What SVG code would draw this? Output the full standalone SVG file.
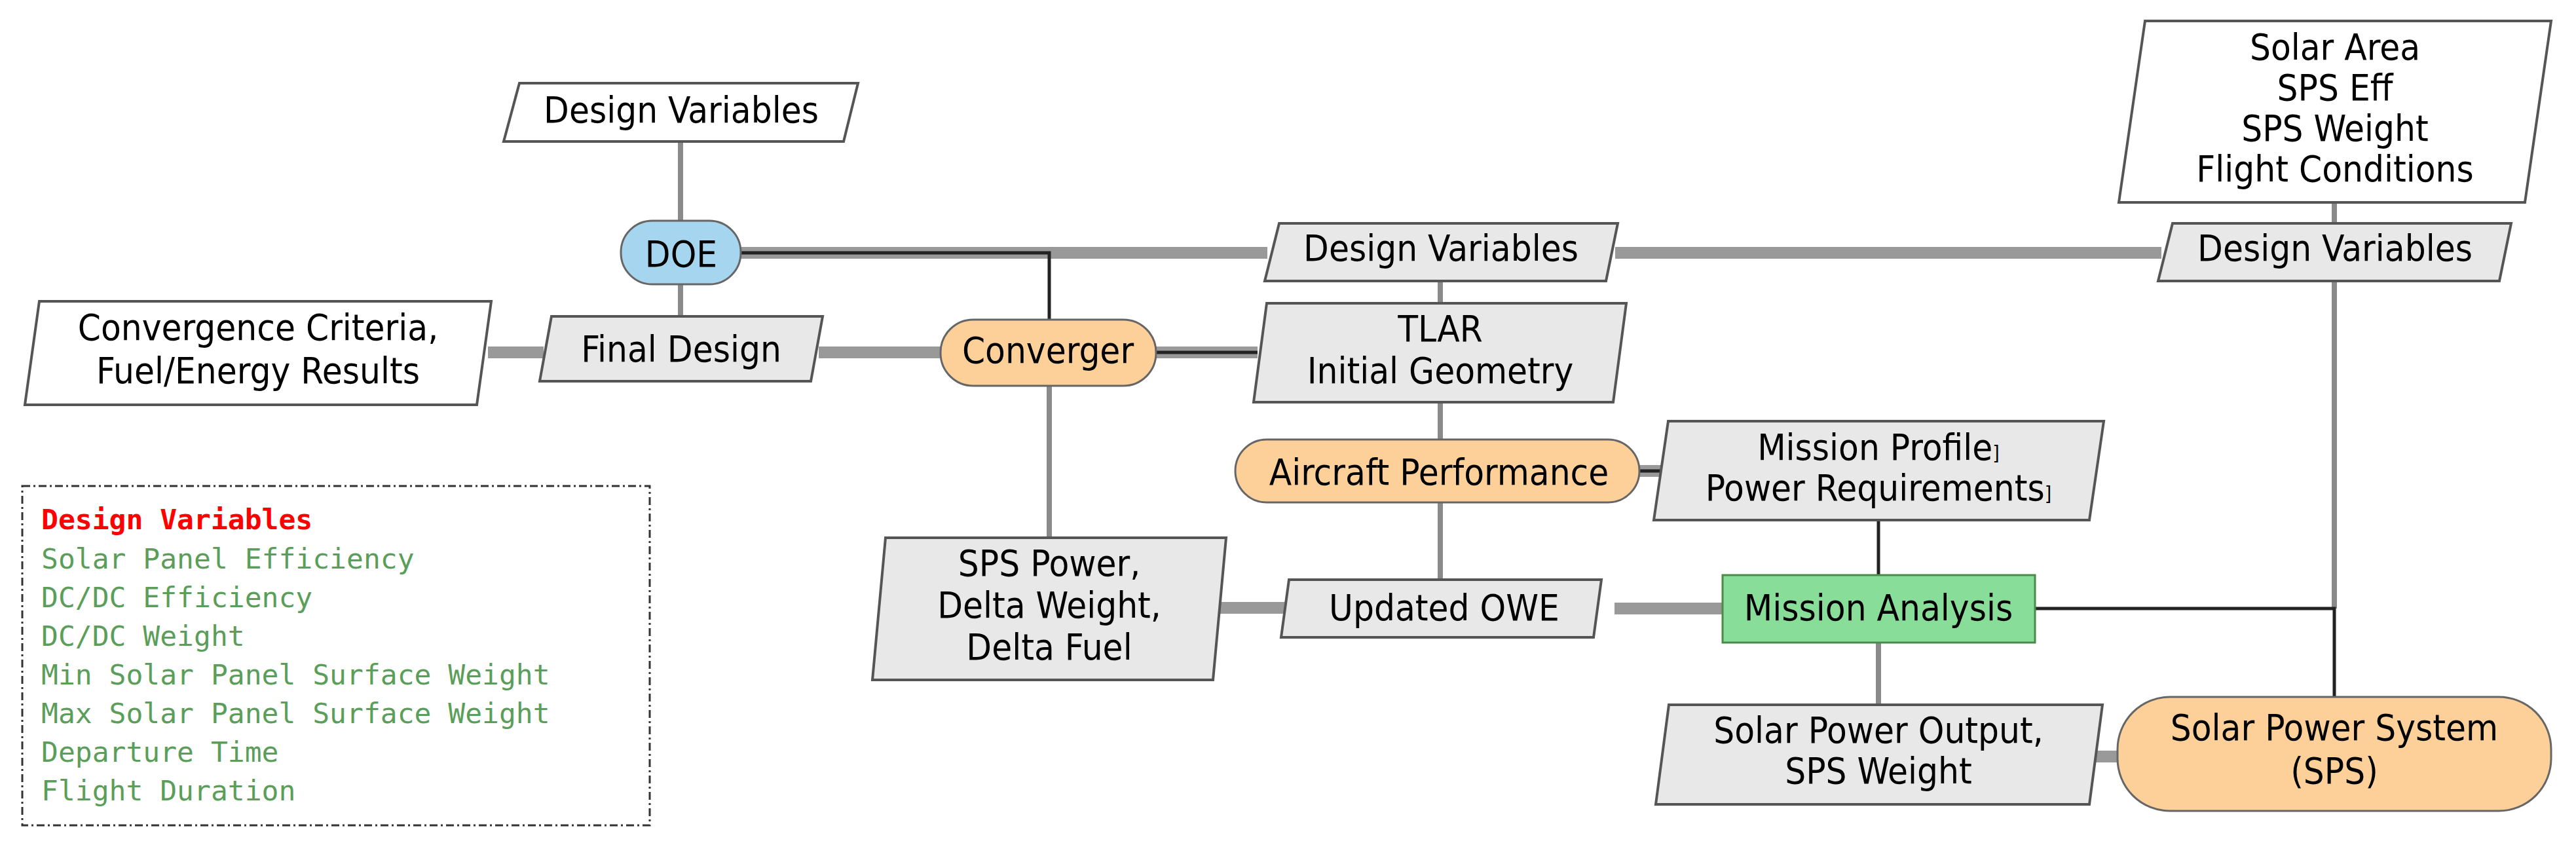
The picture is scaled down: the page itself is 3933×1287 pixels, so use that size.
<svg xmlns="http://www.w3.org/2000/svg" width="3933" height="1287" viewBox="0 0 3933 1287">
<style>
.t{font-family:"DejaVu Sans Condensed","DejaVu Sans",sans-serif;font-size:56px;text-anchor:middle;fill:#000}
.pw{fill:#fff;stroke:#555;stroke-width:4}
.pg{fill:#e8e8e8;stroke:#555;stroke-width:4}
.or{fill:#fdd09a;stroke:#666;stroke-width:3}
.thick{stroke:#999;stroke-width:18;fill:none}
.med{stroke:#8a8a8a;stroke-width:8;fill:none}
.blk{stroke:#222;stroke-width:5;fill:none}
.mono{font-family:"DejaVu Sans Mono",monospace;font-size:43px;fill:#5a9e5a}
</style>
<rect width="3933" height="1287" fill="#fff"/>
<g id="connectors">
<line class="med" x1="1039" y1="216" x2="1039" y2="337"/>
<line class="med" x1="1039" y1="434" x2="1039" y2="483"/>
<line class="thick" x1="1131" y1="386" x2="1935" y2="386"/>
<polyline class="blk" points="1131,386 1602,386 1602,488"/>
<line class="thick" x1="2466" y1="386" x2="3300" y2="386"/>
<line class="thick" x1="745" y1="538" x2="830" y2="538"/>
<line class="thick" x1="1250" y1="538" x2="1436" y2="538"/>
<line class="thick" x1="1765" y1="538" x2="1920" y2="538"/>
<line class="blk" x1="1765" y1="538" x2="1920" y2="538"/>
<line class="med" x1="1602" y1="589" x2="1602" y2="821"/>
<line class="med" x1="2199" y1="429" x2="2199" y2="463"/>
<line class="med" x1="2199" y1="614" x2="2199" y2="671" stroke="#555"/>
<line class="thick" x1="2503" y1="719" x2="2540" y2="719"/>
<line class="blk" x1="2503" y1="719" x2="2540" y2="719"/>
<line class="med" x1="2199" y1="767" x2="2199" y2="885"/>
<line class="blk" x1="2868" y1="794" x2="2868" y2="878"/>
<line class="thick" x1="1860" y1="928" x2="1965" y2="928"/>
<line class="thick" x1="2465" y1="929" x2="2630" y2="929"/>
<line class="med" x1="2868" y1="981" x2="2868" y2="1076"/>
<line class="thick" x1="3200" y1="1155" x2="3240" y2="1155"/>
<line class="med" x1="3564" y1="309" x2="3564" y2="341"/>
<line class="med" x1="3564" y1="429" x2="3564" y2="929"/>
<polyline class="blk" points="3107,929 3564,929 3564,1064"/>
</g>
<g id="dv-top"><polygon class="pw" points="793,127 1310,127 1288,216 769,216"/><text class="t" x="1040" y="187">Design Variables</text></g>
<g id="doe"><rect x="948" y="337" width="183" height="97" rx="48" fill="#a5d5ef" stroke="#666" stroke-width="3"/><text class="t" x="1040" y="407">DOE</text></g>
<g id="convergence"><polygon class="pw" points="60,460 750,460 728,618 38,618"/><text class="t" x="394" y="519">Convergence Criteria,</text><text class="t" x="394" y="585">Fuel/Energy Results</text></g>
<g id="final-design"><polygon class="pg" points="842,483 1256,483 1238,582 824,582"/><text class="t" x="1040" y="552">Final Design</text></g>
<g id="converger"><rect class="or" x="1436" y="488" width="329" height="101" rx="50"/><text class="t" x="1600" y="554">Converger</text></g>
<g id="dv-mid"><polygon class="pg" points="1953,341 2470,341 2452,429 1931,429"/><text class="t" x="2200" y="398">Design Variables</text></g>
<g id="dv-right"><polygon class="pg" points="3317,341 3834,341 3816,429 3295,429"/><text class="t" x="3565" y="398">Design Variables</text></g>
<g id="solar-area"><polygon class="pw" points="3275,32 3895,32 3855,309 3235,309"/><text class="t" x="3565" y="91">Solar Area</text><text class="t" x="3565" y="153">SPS Eff</text><text class="t" x="3565" y="215">SPS Weight</text><text class="t" x="3565" y="277">Flight Conditions</text></g>
<g id="tlar"><polygon class="pg" points="1934,463 2483,463 2463,614 1914,614"/><text class="t" x="2199" y="521">TLAR</text><text class="t" x="2199" y="585">Initial Geometry</text></g>
<g id="aircraft-performance"><rect class="or" x="1886" y="671" width="617" height="96" rx="48"/><text class="t" x="2197" y="740">Aircraft Performance</text></g>
<g id="mission-profile"><polygon class="pg" points="2547,643 3212,643 3190,794 2525,794"/><text class="t" x="2868" y="702">Mission Profile<tspan font-size="30">]</tspan></text><text class="t" x="2868" y="764">Power Requirements<tspan font-size="30">]</tspan></text></g>
<g id="sps-power"><polygon class="pg" points="1352,821 1872,821 1852,1038 1332,1038"/><text class="t" x="1602" y="879">SPS Power,</text><text class="t" x="1602" y="943">Delta Weight,</text><text class="t" x="1602" y="1007">Delta Fuel</text></g>
<g id="updated-owe"><polygon class="pg" points="1968,885 2445,885 2433,973 1956,973"/><text class="t" x="2205" y="947">Updated OWE</text></g>
<g id="mission-analysis"><rect x="2630" y="878" width="477" height="103" fill="#88dd99" stroke="#4a8a4a" stroke-width="3"/><text class="t" x="2868" y="947">Mission Analysis</text></g>
<g id="solar-output"><polygon class="pg" points="2548,1076 3210,1076 3190,1228 2528,1228"/><text class="t" x="2868" y="1134">Solar Power Output,</text><text class="t" x="2868" y="1196">SPS Weight</text></g>
<g id="sps"><rect class="or" x="3233" y="1064" width="662" height="174" rx="80"/><text class="t" x="3564" y="1130">Solar Power System</text><text class="t" x="3564" y="1196">(SPS)</text></g>
<g id="legend">
<rect x="34" y="742" width="958" height="518" fill="none" stroke="#333" stroke-width="3" stroke-dasharray="12,5,3,5"/>
<text class="mono" x="63" y="808" fill="#f00" font-weight="bold" style="fill:#f00">Design Variables</text>
<text class="mono" x="63" y="868">Solar Panel Efficiency</text>
<text class="mono" x="63" y="927">DC/DC Efficiency</text>
<text class="mono" x="63" y="986">DC/DC Weight</text>
<text class="mono" x="63" y="1045">Min Solar Panel Surface Weight</text>
<text class="mono" x="63" y="1104">Max Solar Panel Surface Weight</text>
<text class="mono" x="63" y="1163">Departure Time</text>
<text class="mono" x="63" y="1222">Flight Duration</text>
</g>
</svg>
